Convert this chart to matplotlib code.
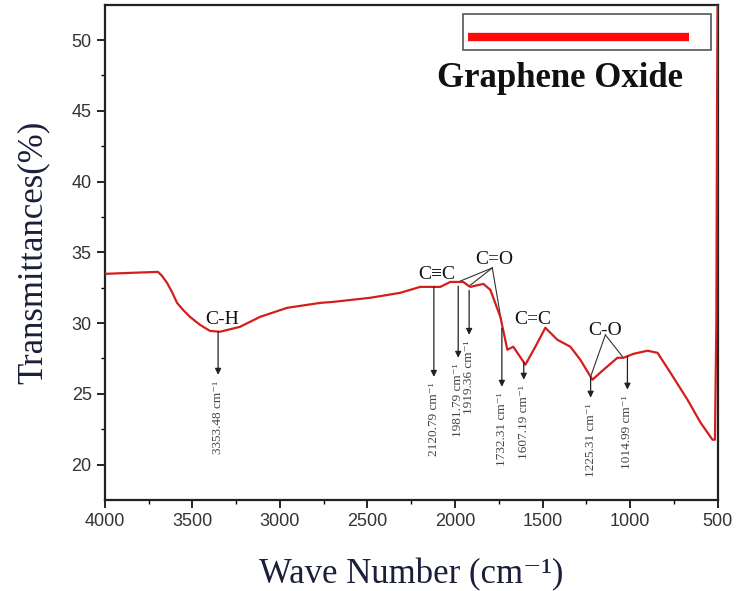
import numpy as np
import matplotlib
matplotlib.use('Agg')
import matplotlib.pyplot as plt

# FTIR spectrum of graphene oxide
wavenumber = [4000, 3857, 3697, 3674, 3645, 3617, 3588, 3554, 3514, 3457, 3400,
              3342, 3228, 3114, 2959, 2769, 2696, 2484, 2313, 2199, 2084, 2027,
              1953, 1913, 1838, 1798, 1741, 1701, 1667, 1598, 1541, 1484, 1415,
              1341, 1284, 1215, 1152, 1072, 1038, 980, 900, 843, 769, 672, 597,
              529, 515, 507, 503, 500]
transmittance = [33.48, 33.55, 33.62, 33.34, 32.84, 32.20, 31.43, 30.94, 30.44,
                 29.88, 29.45, 29.39, 29.74, 30.44, 31.08, 31.43, 31.50, 31.79,
                 32.14, 32.56, 32.56, 32.91, 32.91, 32.56, 32.77, 32.35, 30.44,
                 28.12, 28.33, 27.06, 28.33, 29.67, 28.82, 28.33, 27.41, 26.00,
                 26.70, 27.55, 27.55, 27.83, 28.05, 27.90, 26.49, 24.59, 22.96,
                 21.76, 21.76, 30.0, 45.0, 52.5]

# labelled bands: position, label, arrow tip
peaks = [3353.48, 2120.79, 1981.79, 1919.36, 1732.31, 1607.19, 1225.31, 1014.99]
peak_labels = ['3353.48 cm⁻¹', '2120.79 cm⁻¹', '1981.79 cm⁻¹', '1919.36 cm⁻¹',
               '1732.31 cm⁻¹', '1607.19 cm⁻¹', '1225.31 cm⁻¹', '1014.99 cm⁻¹']
arrow_tips = [26.35, 26.2, 27.55, 29.17, 25.5, 26.0, 24.73, 25.3]

groups = ['C-H', 'C≡C', 'C=O', 'C=C', 'C-O']
group_x = [3331, 2107, 1775, 1558, 1141]
group_y = [30.23, 33.41, 34.47, 30.23, 29.5]

serif = ['Liberation Serif', 'DejaVu Serif']
sans = 'Liberation Sans'

fig = plt.figure(figsize=(7.39, 5.91), dpi=100)
ax = fig.add_axes([0.142, 0.154, 0.829, 0.838])

wn = np.array(wavenumber)[::-1]
tr = np.array(transmittance)[::-1]
ax.plot(wavenumber, transmittance, color='#d41e1e', lw=1.6, zorder=3,
        solid_joinstyle='round')

ax.set_xlim(4000, 500)
ax.set_ylim(17.5, 52.5)
ax.set_xticks(np.arange(4000, 499, -500))
ax.set_xticks(np.arange(3750, 500, -500), minor=True)
ax.set_yticks(np.arange(20, 51, 5))
ax.set_yticks(np.arange(22.5, 52, 5), minor=True)
ax.tick_params(which='major', direction='out', length=6, width=1.2,
               labelsize=13, labelcolor='#333333')
ax.tick_params(which='minor', direction='out', length=3, width=1.0)
for lab in ax.get_xticklabels() + ax.get_yticklabels():
    lab.set_fontfamily(sans)
for s in ax.spines.values():
    s.set_linewidth(1.6)
    s.set_color('#222222')

ax.set_xlabel('Wave Number (cm⁻¹)', fontfamily=serif, fontsize=25,
              color='#1a1f3a', labelpad=20)
ax.set_ylabel('Transmittances(%)', fontfamily=serif, fontsize=25,
              color='#1a1f3a', labelpad=16)

# arrows down to the band positions, with rotated labels
for p, lab, tip in zip(peaks, peak_labels, arrow_tips):
    top = np.interp(p, wn, tr)
    if p in (1981.79, 1919.36, 1732.31):
        top -= 0.3
    ax.annotate('', xy=(p, tip), xytext=(p, top),
                arrowprops=dict(arrowstyle='-|>', color='#222222', lw=0.9,
                                mutation_scale=9, shrinkA=0, shrinkB=0))
    ax.text(p, tip - 0.4, lab, rotation=90, ha='center', va='top',
            fontfamily=serif, fontsize=9.5, color='#444444')

for g, gx, gy in zip(groups, group_x, group_y):
    ax.text(gx, gy, g, ha='center', va='center', fontfamily=serif,
            fontsize=14, color='#111111')

# leader lines from the C=O and C-O labels
for p in (1981.79, 1919.36, 1732.31):
    ax.plot([1787, p], [33.9, np.interp(p, wn, tr)], color='#333333', lw=0.8)
for p in (1225.31, 1038):
    ax.plot([1141, p], [29.17, np.interp(p, wn, tr)], color='#333333', lw=0.8)

# legend box
ax.add_patch(plt.Rectangle((0.584, 0.909), 0.406, 0.073, transform=ax.transAxes,
                           fill=False, edgecolor='#555555', lw=1.2, zorder=4))
ax.plot([0.592, 0.954], [0.935, 0.935], transform=ax.transAxes,
        color='#ff0a0a', lw=6, solid_capstyle='butt', zorder=4)
ax.text(0.742, 0.852, 'Graphene Oxide', transform=ax.transAxes, ha='center',
        va='center', fontfamily=serif, fontweight='bold', fontsize=25,
        color='#111111')

fig.savefig('out.png', dpi=100)
